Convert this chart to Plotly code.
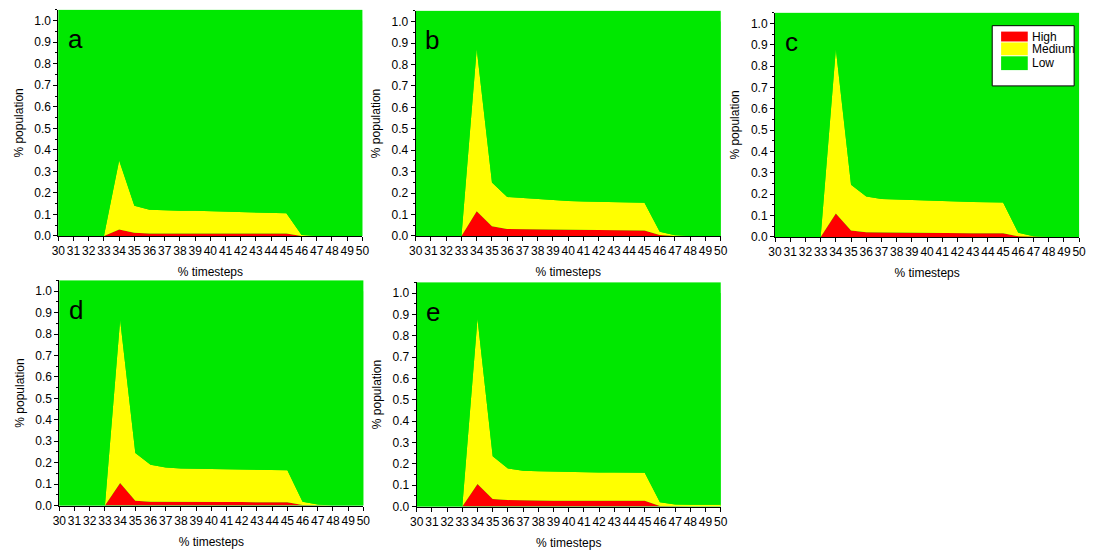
import plotly.graph_objects as go

timesteps = list(range(30, 51))

# High (red) and Medium (yellow) fractions per panel; Low = 1 - High - Medium
high_a = [0, 0, 0, 0, 0.03, 0.015, 0.012, 0.012, 0.012, 0.012, 0.012, 0.012, 0.012, 0.012, 0.012, 0.012, 0, 0, 0, 0, 0]
med_a = [0, 0, 0, 0, 0.32, 0.125, 0.11, 0.106, 0.105, 0.105, 0.103, 0.1, 0.098, 0.096, 0.095, 0.093, 0.005, 0, 0, 0, 0]

high_b = [0, 0, 0, 0, 0.115, 0.045, 0.033, 0.032, 0.031, 0.03, 0.028, 0.027, 0.027, 0.026, 0.025, 0.025, 0.005, 0, 0, 0, 0]
med_b = [0, 0, 0, 0, 0.757, 0.205, 0.149, 0.145, 0.141, 0.137, 0.135, 0.134, 0.132, 0.131, 0.13, 0.13, 0.015, 0.003, 0, 0, 0]

high_c = [0, 0, 0, 0, 0.11, 0.03, 0.022, 0.021, 0.021, 0.021, 0.018, 0.018, 0.018, 0.018, 0.018, 0.018, 0.003, 0, 0, 0, 0]
med_c = [0, 0, 0, 0, 0.77, 0.215, 0.168, 0.157, 0.154, 0.151, 0.152, 0.15, 0.148, 0.146, 0.144, 0.144, 0.017, 0.003, 0, 0, 0]

high_d = [0, 0, 0, 0, 0.105, 0.022, 0.018, 0.017, 0.016, 0.016, 0.016, 0.016, 0.016, 0.016, 0.015, 0.015, 0.003, 0, 0, 0, 0]
med_d = [0, 0, 0, 0, 0.76, 0.223, 0.172, 0.161, 0.157, 0.156, 0.155, 0.154, 0.152, 0.151, 0.151, 0.15, 0.015, 0.005, 0, 0, 0]

high_e = [0, 0, 0, 0, 0.105, 0.035, 0.03, 0.028, 0.028, 0.027, 0.027, 0.027, 0.027, 0.027, 0.027, 0.027, 0.003, 0, 0, 0, 0]
med_e = [0, 0, 0, 0, 0.775, 0.2, 0.148, 0.14, 0.137, 0.136, 0.135, 0.133, 0.132, 0.132, 0.131, 0.131, 0.017, 0.01, 0.008, 0.008, 0.008]

panel_labels = ["a", "b", "c", "d", "e"]
series_names = ["High", "Medium", "Low"]
colors = {"High": "#FF0000", "Medium": "#FFFF00", "Low": "#00E800"}

panels = [(high_a, med_a), (high_b, med_b), (high_c, med_c), (high_d, med_d), (high_e, med_e)]

W, H = 1093, 555
# pixel boxes (left, right, top, bottom)
boxes = [(52, 360, 10, 239), (414, 723, 11, 239), (778, 1086, 13, 240),
         (53, 361, 284, 512), (415, 723, 286, 513)]

fig = go.Figure()
font = "Liberation Sans, Arial, sans-serif"

for i, ((hi, md), lab) in enumerate(zip(panels, panel_labels)):
    n = i + 1
    xa = "x" if n == 1 else f"x{n}"
    ya = "y" if n == 1 else f"y{n}"
    low = [round(1 - h - m, 4) for h, m in zip(hi, md)]
    for name, vals in zip(series_names, [hi, md, low]):
        fig.add_trace(go.Scatter(
            x=timesteps, y=vals, name=name, mode="lines",
            line=dict(width=0, color=colors[name]),
            fillcolor=colors[name], stackgroup=f"s{n}",
            xaxis=xa, yaxis=ya, legendgroup=name, showlegend=False,
        ))
    l, r, t, b = boxes[i]
    axis_common = dict(showline=True, linecolor="black", linewidth=1, ticks="outside",
                       tickcolor="black", ticklen=4, showgrid=False, zeroline=False,
                       tickfont=dict(family=font, size=12, color="black"),
                       mirror=False)
    fig.layout[f"xaxis{'' if n == 1 else n}"] = dict(
        domain=[l / W, r / W], anchor=ya, range=[30, 50], dtick=1, tick0=30, tickangle=0,
        title=dict(text="% timesteps", font=dict(family=font, size=12, color="black"), standoff=10),
        **axis_common)
    fig.layout[f"yaxis{'' if n == 1 else n}"] = dict(
        domain=[1 - b / H, 1 - t / H], anchor=xa, range=[0, 1.05], dtick=0.1, tick0=0,
        tickformat=".1f",
        minor=dict(ticks="outside", ticklen=2, tickcolor="black", dtick=0.05, showgrid=False),
        title=dict(text="% population", font=dict(family=font, size=12, color="black"), standoff=8),
        **axis_common)
    fig.add_annotation(text=lab, xref=f"{xa} domain", yref=f"{ya} domain",
                       x=0.025, y=0.87, xanchor="left", yanchor="middle", showarrow=False,
                       font=dict(family=font, size=26, color="black"))

# Legend box (drawn in panel c, as in the original figure)
def px(x):
    return x / W

def py(y):
    return 1 - y / H

fig.add_shape(type="rect", xref="paper", yref="paper",
              x0=px(998), x1=px(1081), y0=py(87), y1=py(26),
              fillcolor="white", line=dict(color="black", width=1), layer="above")
swatch_rows = [(32, 42), (43, 56), (57, 71)]
for name, (top, bot) in zip(series_names, swatch_rows):
    fig.add_shape(type="rect", xref="paper", yref="paper",
                  x0=px(1007), x1=px(1034), y0=py(bot), y1=py(top),
                  fillcolor=colors[name], line=dict(width=0), layer="above")
    fig.add_annotation(text=name, xref="paper", yref="paper",
                       x=px(1036), y=py((top + bot) / 2), xanchor="left", yanchor="middle",
                       showarrow=False, font=dict(family=font, size=12, color="black"))

fig.update_layout(
    width=W, height=H, margin=dict(l=0, r=0, t=0, b=0),
    paper_bgcolor="white", plot_bgcolor="#00E800",
    showlegend=False,
)

fig.write_html("out.html")
